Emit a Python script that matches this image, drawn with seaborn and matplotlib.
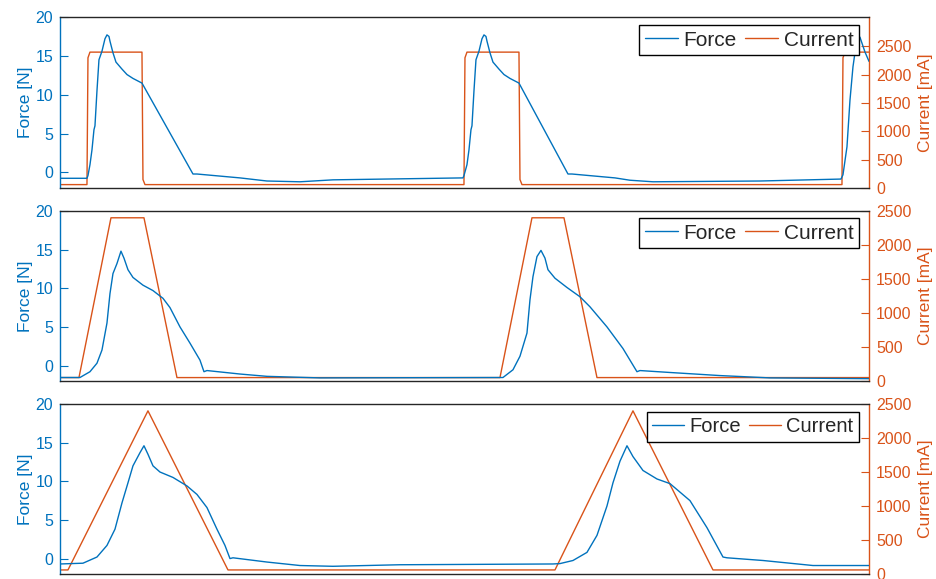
import matplotlib
matplotlib.use("Agg")
import matplotlib.pyplot as plt
import seaborn as sns
import numpy as np
import pandas as pd

# ---------------- data (sample index) ----------------
# Panel 1 : square current pulse
p1_force_t = [0, 27, 28, 30, 32, 34, 35, 37, 39, 42, 45, 47, 49, 50, 53, 56, 62, 67, 73, 82,
              133, 137, 180, 207, 240, 273, 403,
              404, 407, 409, 411, 412, 414, 416, 419, 422, 424, 426, 427, 430, 433, 439, 444, 450, 459,
              508, 512, 555, 570, 593, 700, 781,
              783, 787, 790, 793, 795, 798, 800, 805, 809]
p1_force = [-0.75, -0.75, -0.4, 1.0, 2.9, 5.5, 6.0, 10.5, 14.5, 15.6, 17.2, 17.7, 17.5, 16.9, 15.4, 14.2, 13.3, 12.6, 12.1, 11.5,
            -0.2, -0.2, -0.7, -1.1, -1.2, -0.95, -0.7,
            -0.4, 1.0, 2.9, 5.5, 6.0, 10.5, 14.5, 15.6, 17.2, 17.7, 17.5, 16.9, 15.4, 14.2, 13.3, 12.6, 12.1, 11.5,
            -0.2, -0.2, -0.7, -1.0, -1.2, -1.1, -0.85,
            -0.3, 3.3, 9.3, 13.6, 15.4, 17.6, 17.4, 15.5, 14.3]
p1_cur_t = [0, 27, 28, 30, 82, 83, 85, 404, 405, 407, 459, 460, 462, 782, 783, 785, 809]
p1_cur = [60, 60, 2300, 2400, 2400, 150, 60, 60, 2300, 2400, 2400, 150, 60, 60, 2300, 2400, 2400]

# Panel 2 : trapezoidal current
p2_force_t = [0, 20, 30, 37, 42, 47, 50, 53, 57, 61, 64, 68, 73, 83, 93, 103, 110, 120, 130, 140, 144, 147,
              180, 207, 260, 443,
              453, 460, 467, 470, 473, 477, 481, 485, 488, 495, 507, 520, 530, 547, 563, 577, 580,
              610, 660, 710, 809]
p2_force = [-1.55, -1.55, -0.8, 0.3, 2.0, 5.5, 9.3, 11.9, 13.2, 14.8, 13.9, 12.4, 11.4, 10.4, 9.7, 8.7, 7.5, 5.0, 2.9, 0.7, -0.8, -0.65,
            -1.1, -1.4, -1.6, -1.55,
            -0.55, 1.2, 4.2, 8.5, 11.5, 14.1, 14.9, 13.9, 12.4, 11.3, 10.1, 8.9, 7.6, 5.0, 2.2, -0.8, -0.65,
            -0.9, -1.3, -1.6, -1.7]
p2_cur_t = [0, 19, 51, 84, 117, 440, 472, 504, 537, 809]
p2_cur = [50, 50, 2400, 2400, 50, 50, 2400, 2400, 50, 50]

# Panel 3 : triangular current
p3_force_t = [0, 23, 37, 47, 55, 62, 68, 73, 80, 84, 88, 93, 100, 113, 127, 137, 147, 157, 165, 170, 173,
              207, 240, 273, 340, 493,
              500, 513, 527, 537, 547, 553, 560, 567, 573, 583, 597, 610, 630, 647, 663, 667,
              703, 753, 809]
p3_force = [-0.7, -0.6, 0.2, 1.7, 3.8, 7.2, 9.8, 12.0, 13.7, 14.6, 13.5, 12.0, 11.2, 10.5, 9.4, 8.3, 6.6, 3.8, 1.7, 0.0, 0.1,
            -0.45, -0.9, -1.0, -0.8, -0.7,
            -0.65, -0.25, 0.8, 3.0, 6.8, 9.8, 12.6, 14.6, 13.2, 11.4, 10.3, 9.7, 7.5, 4.0, 0.2, 0.1,
            -0.25, -0.9, -0.9]
p3_cur_t = [0, 8, 88, 168, 495, 573, 653, 809]
p3_cur = [60, 60, 2400, 60, 60, 2400, 60, 60]

force_ticks = [0, 5, 10, 15, 20]
current_ticks = [0, 500, 1000, 1500, 2000, 2500]
series_labels = ["Force", "Current"]
force_label = "Force [N]"
current_label = "Current [mA]"

# ---------------- style ----------------
sns.set_style("white")
plt.rcParams["font.family"] = ["Liberation Sans", "DejaVu Sans"]

BLUE = "#0072BD"
ORANGE = "#D95319"
DARK = "#262626"

fig = plt.figure(figsize=(9.37, 5.79), dpi=100)

panels = [
    (p1_force_t, p1_force, p1_cur_t, p1_cur, (0.6753, 0.9706), 3020, 0.953, 15),
    (p2_force_t, p2_force, p2_cur_t, p2_cur, (0.3420, 0.6356), 2500, 0.959, 15),
    (p3_force_t, p3_force, p3_cur_t, p3_cur, (0.0086, 0.3022), 2500, 0.953, 14.5),
]

for ft, fv, ct, cv, (b, t), ctop, legy, legfs in panels:
    ax = fig.add_axes([0.064, b, 0.8634, t - b])
    ax2 = ax.twinx()

    df_f = pd.DataFrame({"t": ft, "v": fv})
    df_c = pd.DataFrame({"t": ct, "v": cv})
    sns.lineplot(data=df_c, x="t", y="v", ax=ax2, color=ORANGE, lw=1.0,
                 estimator=None, sort=False, legend=False)
    sns.lineplot(data=df_f, x="t", y="v", ax=ax, color=BLUE, lw=1.0,
                 estimator=None, sort=False, legend=False)

    ax.set_zorder(ax2.get_zorder() + 1)
    ax.patch.set_visible(False)

    ax.set_xlim(0, 809)
    ax.set_ylim(-2, 20)
    ax2.set_ylim(0, ctop)
    ax.set_xticks([])
    ax2.set_xticks([])
    ax.set_yticks(force_ticks)
    ax2.set_yticks(current_ticks)
    ax.set_xlabel("")
    ax2.set_xlabel("")

    ax.tick_params(axis="y", direction="in", length=6, width=0.8, colors=BLUE,
                   labelsize=11.5, pad=5, left=True)
    ax2.tick_params(axis="y", direction="in", length=6, width=0.8, colors=ORANGE,
                    labelsize=11.5, pad=5, right=True)

    ax.set_ylabel(force_label, color=BLUE, fontsize=12.5)
    ax.yaxis.set_label_coords(-0.033, 0.5)
    ax2.set_ylabel(current_label, color=ORANGE, fontsize=12.5)
    ax2.yaxis.set_label_coords(1.061, 0.5)

    for s in ["top", "bottom"]:
        ax.spines[s].set_color(DARK)
        ax.spines[s].set_linewidth(1.0)
        ax2.spines[s].set_visible(False)
    ax.spines["left"].set_color(BLUE)
    ax.spines["left"].set_linewidth(1.0)
    ax.spines["right"].set_visible(False)
    ax2.spines["left"].set_visible(False)
    ax2.spines["right"].set_color(ORANGE)
    ax2.spines["right"].set_linewidth(1.0)
    ax2.spines["right"].set_visible(True)

    handles = [ax.get_lines()[0], ax2.get_lines()[0]]
    leg = ax.legend(handles, series_labels, loc="upper right",
                    bbox_to_anchor=(0.9876, legy), borderaxespad=0, ncol=2,
                    fontsize=legfs, frameon=True, fancybox=False, framealpha=1,
                    edgecolor="black", handlelength=1.6, handletextpad=0.25,
                    columnspacing=0.4, borderpad=0.27)
    leg.get_frame().set_linewidth(1.0)

fig.savefig("out.png", dpi=100)
